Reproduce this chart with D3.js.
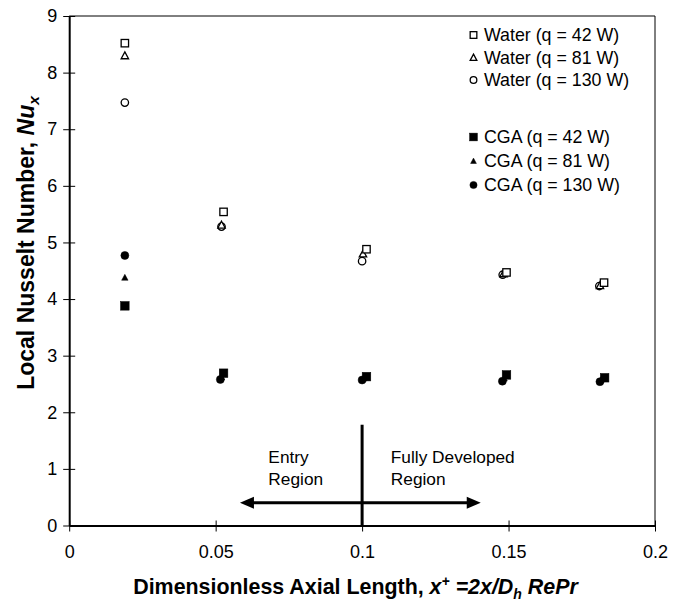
<!DOCTYPE html>
<html>
<head>
<meta charset="utf-8">
<script src="https://cdn.jsdelivr.net/npm/d3@7"></script>
<style>
  html, body { margin: 0; padding: 0; background: #fff; }
  svg { display: block; }
  text { font-family: "Liberation Sans", Arial, Helvetica, sans-serif; fill: #000; }
</style>
</head>
<body>
<svg id="chart" width="679" height="602"></svg>
<script>
// ---- data ----
const xTicks = [0, 0.05, 0.1, 0.15, 0.2];
const xTickLabels = ["0", "0.05", "0.1", "0.15", "0.2"];
const yTicks = [0, 1, 2, 3, 4, 5, 6, 7, 8, 9];
const yTickLabels = ["0", "1", "2", "3", "4", "5", "6", "7", "8", "9"];

const seriesNames = ["Water (q = 42 W)", "Water (q = 81 W)", "Water (q = 130 W)",
                     "CGA (q = 42 W)", "CGA (q = 81 W)", "CGA (q = 130 W)"];
const seriesShapes = ["square", "triangle", "circle", "square", "triangle", "circle"];
const seriesFilled = [false, false, false, true, true, true];

const water42X  = [0.019, 0.0527, 0.1015, 0.1493, 0.1826];
const water42Y  = [8.52, 5.54, 4.88, 4.47, 4.29];
const water81X  = [0.019, 0.0520, 0.1003, 0.1483, 0.1812];
const water81Y  = [8.30, 5.31, 4.80, 4.45, 4.24];
const water130X = [0.019, 0.0520, 0.1000, 0.1480, 0.1810];
const water130Y = [7.47, 5.28, 4.67, 4.43, 4.23];
const cga42X    = [0.019, 0.0527, 0.1015, 0.1493, 0.1828];
const cga42Y    = [3.88, 2.69, 2.63, 2.66, 2.61];
const cga81X    = [0.019, 0.0520, 0.1005, 0.1485, 0.1815];
const cga81Y    = [4.38, 2.62, 2.60, 2.60, 2.57];
const cga130X   = [0.019, 0.0516, 0.1000, 0.1479, 0.1812];
const cga130Y   = [4.77, 2.58, 2.57, 2.55, 2.54];

const regionBoundaryX = 0.1;
const regionBoundaryTop = 1.78;
const arrowY = 0.40;
const arrowLeftX = 0.0583;
const arrowRightX = 0.1405;
const entryLabel = ["Entry", "Region"];
const developedLabel = ["Fully Developed", "Region"];

// ---- layout ----
const svg = d3.select("#chart");
const mLeft = 69.2, mRight = 655, mTop = 16, mBottom = 525.5;

const x = d3.scaleLinear().domain([0, 0.2]).range([mLeft, mRight]);
const y = d3.scaleLinear().domain([0, 9]).range([mBottom, mTop]);

// frame (top & right thin lines)
svg.append("path")
  .attr("d", `M${mLeft},${mTop}H${mRight}V${mBottom}`)
  .attr("fill", "none").attr("stroke", "#000").attr("stroke-width", 1);

// x axis
const xAxis = d3.axisBottom(x).tickValues(xTicks)
  .tickFormat((d, i) => xTickLabels[i]).tickSizeInner(6).tickSizeOuter(0).tickPadding(14);
const gx = svg.append("g").attr("transform", `translate(0,${mBottom})`).call(xAxis);
gx.select(".domain").attr("stroke-width", 2);
gx.selectAll(".tick line").attr("y1", -5).attr("y2", 6).attr("stroke-width", 1);
gx.selectAll(".tick text").attr("font-size", 18).attr("font-family", "Liberation Sans, Arial, sans-serif");

// y axis
const yAxis = d3.axisLeft(y).tickValues(yTicks)
  .tickFormat((d, i) => yTickLabels[i]).tickSizeInner(6).tickSizeOuter(0).tickPadding(6);
const gy = svg.append("g").attr("transform", `translate(${mLeft},0)`).call(yAxis);
gy.select(".domain").attr("stroke-width", 2);
gy.selectAll(".tick line").attr("x1", -6).attr("x2", 6).attr("stroke-width", 1);
gy.selectAll(".tick text").attr("font-size", 18).attr("font-family", "Liberation Sans, Arial, sans-serif");

// axis titles
const xt = svg.append("text")
  .attr("x", 355.5).attr("y", 594)
  .attr("text-anchor", "middle").attr("font-weight", "bold").attr("font-size", 21.4);
xt.append("tspan").text("Dimensionless Axial Length, ");
xt.append("tspan").attr("font-style", "italic").text("x");
xt.append("tspan").attr("font-style", "italic").attr("font-size", 14).attr("dy", -8).text("+");
xt.append("tspan").attr("font-style", "italic").attr("dy", 8).text(" =2x/D");
xt.append("tspan").attr("font-style", "italic").attr("font-size", 14).attr("dy", 5).text("h");
xt.append("tspan").attr("font-style", "italic").attr("dy", -5).text(" RePr");

const yt = svg.append("text")
  .attr("transform", `translate(34,243) rotate(-90)`)
  .attr("text-anchor", "middle").attr("font-weight", "bold").attr("font-size", 23);
yt.append("tspan").text("Local Nusselt Number, ");
yt.append("tspan").attr("font-style", "italic").text("Nu");
yt.append("tspan").attr("font-style", "italic").attr("font-size", 15.5).attr("dy", 5).text("x");

// marker drawing
function drawMarker(g, shape, filled, cx, cy, scale) {
  const s = scale || 1;
  const fill = filled ? "#000" : "#fff";
  const stroke = "#000";
  if (shape === "square") {
    const h = (filled ? 4.3 : 3.7) * s;
    g.append("rect").attr("x", cx - h).attr("y", cy - h).attr("width", 2 * h).attr("height", 2 * h)
      .attr("fill", fill).attr("stroke", stroke).attr("stroke-width", filled ? 0.5 : 1.3);
  } else if (shape === "triangle") {
    const h = (filled ? 3.2 : 3.7) * s;
    g.append("path")
      .attr("d", `M${cx},${cy - h}L${cx + h},${cy + h * 0.85}L${cx - h},${cy + h * 0.85}Z`)
      .attr("fill", fill).attr("stroke", stroke).attr("stroke-width", filled ? 0.5 : 1.3)
      .attr("stroke-linejoin", "miter");
  } else {
    const r = (filled ? 4.0 : 3.7) * s;
    g.append("circle").attr("cx", cx).attr("cy", cy).attr("r", r)
      .attr("fill", fill).attr("stroke", stroke).attr("stroke-width", filled ? 0.5 : 1.3);
  }
}

const seriesX = [water42X, water81X, water130X, cga42X, cga81X, cga130X];
const seriesY = [water42Y, water81Y, water130Y, cga42Y, cga81Y, cga130Y];

// draw order: circles, triangles, then squares on top
const drawOrder = [2, 1, 0, 5, 4, 3];
const pts = svg.append("g");
drawOrder.forEach(si => {
  const g = pts.append("g");
  seriesX[si].forEach((xv, i) => {
    drawMarker(g, seriesShapes[si], seriesFilled[si], x(xv), y(seriesY[si][i]), 1);
  });
});

// legend
const legendRowsY = [35, 57.5, 80, 137, 161, 185];
const lg = svg.append("g");
seriesNames.forEach((name, i) => {
  drawMarker(lg, seriesShapes[i], seriesFilled[i], 473.5, legendRowsY[i], 0.9);
  lg.append("text").attr("x", 484).attr("y", legendRowsY[i]).attr("dy", "0.35em")
    .attr("font-size", 17.8).text(name);
});

// region annotation
const ann = svg.append("g");
ann.append("line")
  .attr("x1", x(regionBoundaryX)).attr("x2", x(regionBoundaryX))
  .attr("y1", y(regionBoundaryTop)).attr("y2", y(0))
  .attr("stroke", "#000").attr("stroke-width", 3);

const ay = y(arrowY);
const xl = x(arrowLeftX), xr = x(arrowRightX);
const headL = 14, headH = 6;
ann.append("line").attr("x1", xl + headL - 1).attr("x2", xr - headL + 1)
  .attr("y1", ay).attr("y2", ay).attr("stroke", "#000").attr("stroke-width", 3);
ann.append("path").attr("d", `M${xl},${ay}L${xl + headL},${ay - headH}L${xl + headL},${ay + headH}Z`).attr("fill", "#000");
ann.append("path").attr("d", `M${xr},${ay}L${xr - headL},${ay - headH}L${xr - headL},${ay + headH}Z`).attr("fill", "#000");

const entryX = x(0.068), devX = x(0.1098);
entryLabel.forEach((t, i) => {
  ann.append("text").attr("x", entryX).attr("y", 463 + i * 21.5).attr("font-size", 17.3).text(t);
});
developedLabel.forEach((t, i) => {
  ann.append("text").attr("x", devX).attr("y", 463 + i * 21.5).attr("font-size", 17.3).text(t);
});
</script>
</body>
</html>
